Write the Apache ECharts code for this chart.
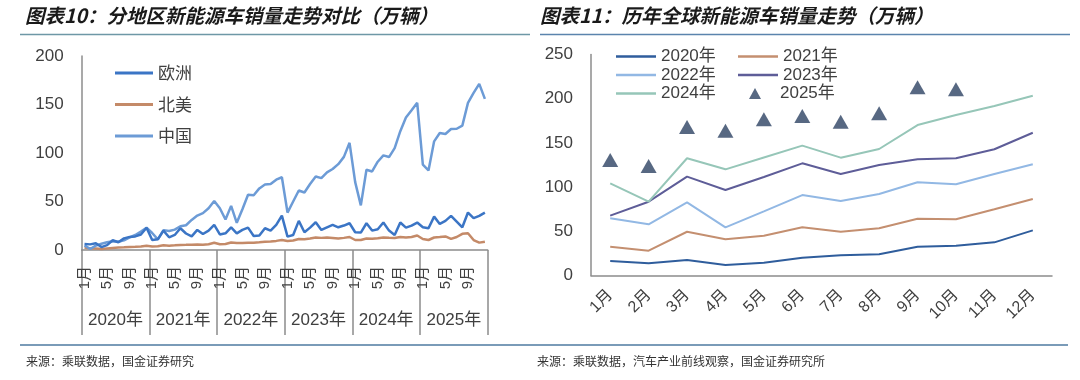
<!DOCTYPE html>
<html>
<head>
<meta charset="utf-8">
<script src="https://cdn.jsdelivr.net/npm/echarts@6/dist/echarts.min.js"></script>
<style>
html,body{margin:0;padding:0;background:#fff;}
#c{width:1080px;height:380px;}
</style>
</head>
<body>
<div id="c"></div>
<script>
// ---------- Left chart data (万辆) ----------
const leftYears = ['2020年','2021年','2022年','2023年','2024年','2025年'];
const monthNames = ['1月','2月','3月','4月','5月','6月','7月','8月','9月','10月','11月','12月'];
const europe = [
  6.2, 5.8, 7.0, 3.0, 5.0, 10.0, 8.0, 12.0, 13.5, 14.0, 16.0, 23.0,
  10.3, 11.0, 20.0, 13.1, 15.5, 22.4, 17.0, 14.0, 20.7, 16.5, 20.0, 25.9,
  16.0, 17.2, 23.4, 17.2, 20.7, 23.1, 14.5, 15.0, 22.4, 19.9, 25.9, 35.5,
  13.8, 15.5, 30.0, 18.3, 23.1, 28.6, 20.7, 23.4, 25.9, 23.4, 25.2, 27.6,
  18.3, 18.0, 27.6, 20.0, 21.4, 28.3, 20.0, 15.5, 28.3, 23.1, 25.2, 28.3,
  23.4, 22.4, 34.4, 26.9, 30.0, 35.2, 29.3, 23.4, 38.6, 32.8, 35.2, 38.6
];
const northAmerica = [
  2.5, 1.5, 1.5, 1.0, 1.5, 2.0, 2.5, 2.8, 3.2, 3.3, 3.5, 4.3,
  3.6, 3.8, 4.8, 4.5, 4.8, 5.2, 5.3, 5.5, 5.6, 5.5, 6.0, 7.5,
  6.0, 6.2, 7.8, 7.2, 7.2, 7.6, 7.6, 8.0, 8.6, 8.8, 9.4, 10.3,
  9.3, 9.8, 11.4, 11.0, 11.8, 12.9, 12.5, 12.9, 12.4, 11.9, 12.5, 13.4,
  10.3, 10.3, 11.9, 11.6, 12.2, 12.9, 12.6, 12.4, 13.4, 13.0, 13.4, 15.0,
  11.4, 10.3, 12.9, 13.4, 14.0, 11.4, 13.4, 16.7, 17.2, 10.3, 7.6, 8.6
];
const china = [
  4.8, 1.0, 4.5, 6.5, 8.0, 9.0, 8.5, 10.0, 13.0, 15.5, 19.0, 23.0,
  17.5, 11.0, 20.5, 19.5, 21.0, 24.5, 25.5, 31.0, 35.5, 38.0, 43.0, 50.5,
  43.0, 31.5, 45.5, 28.0, 42.0, 57.0, 56.5, 63.5, 67.5, 68.0, 72.5, 75.0,
  38.6, 50.0, 61.3, 59.3, 68.0, 75.8, 74.1, 80.0, 83.5, 88.5, 96.0, 110.5,
  70.0, 46.0, 82.7, 81.0, 91.0, 97.5, 95.8, 105.0, 122.5, 136.5, 144.0, 151.7,
  88.0, 82.0, 112.0, 120.6, 119.6, 124.8, 125.0, 128.2, 151.7, 162.0, 171.3, 155.8
];
const leftMonthCats = [];
leftYears.forEach(function(y){ monthNames.forEach(function(m){ leftMonthCats.push(m); }); });

// ---------- Right chart data (万辆) ----------
const rightMonths = ['1月','2月','3月','4月','5月','6月','7月','8月','9月','10月','11月','12月'];
const y2020 = [16.4, 13.8, 17.5, 11.9, 14.5, 20.2, 22.8, 24.0, 32.6, 33.7, 37.5, 51.0];
const y2021 = [32.6, 28.1, 49.5, 40.9, 45.0, 54.5, 49.5, 53.4, 64.3, 63.6, 74.9, 86.5];
const y2022 = [64.7, 57.9, 82.8, 54.5, 72.5, 91.0, 84.3, 92.2, 105.4, 103.2, 114.8, 125.8];
const y2023 = [67.7, 83.5, 111.8, 96.7, 111.5, 126.9, 114.8, 125.0, 131.4, 132.6, 142.8, 161.5];
const y2024 = [104.3, 83.5, 132.6, 120.1, 133.5, 146.9, 133.3, 143.1, 170.2, 181.6, 191.7, 203.4];
const y2025 = [130.6, 123.9, 168.0, 163.8, 176.7, 180.4, 174.0, 183.5, 212.9, 210.6];

const FONT = "'Liberation Sans', 'Noto Sans CJK SC', sans-serif";
const CJK = "'Noto Sans CJK SC', sans-serif";
const AXIS = '#8c8c8c';
const TXT = '#404040';
const LEFT_ICON = 'path://M0,0H38V3H0Z';
const RIGHT_ICON = 'path://M0,0H40V2.5H0Z';

const chart = echarts.init(document.getElementById('c'), null, {renderer: 'canvas'});

const option = {
  animation: false,
  backgroundColor: '#fff',
  textStyle: {fontFamily: FONT},
  graphic: [
    {type: 'text', left: 25, top: 6, style: {text: '图表10：分地区新能源车销量走势对比（万辆）', fontFamily: CJK, fontSize: 19.5, fontWeight: 'bold', fontStyle: 'italic', fill: '#1a1a1a'}},
    {type: 'text', left: 540, top: 6, style: {text: '图表11：历年全球新能源车销量走势（万辆）', fontFamily: CJK, fontSize: 19.5, fontWeight: 'bold', fontStyle: 'italic', fill: '#1a1a1a'}},
    {type: 'line', shape: {x1: 20, y1: 34.5, x2: 530, y2: 34.5}, style: {stroke: '#6e98a6', lineWidth: 1.5}},
    {type: 'line', shape: {x1: 540, y1: 34.5, x2: 1070, y2: 34.5}, style: {stroke: '#5b84ad', lineWidth: 1.5}},
    {type: 'line', shape: {x1: 20, y1: 345, x2: 1068, y2: 345}, style: {stroke: '#7a9bb8', lineWidth: 2}},
    {type: 'text', left: 26, top: 355, style: {text: '来源：乘联数据，国金证券研究', fontFamily: CJK, fontSize: 12, fill: '#333'}},
    {type: 'text', left: 537, top: 355, style: {text: '来源：乘联数据，汽车产业前线观察，国金证券研究所', fontFamily: CJK, fontSize: 12, fill: '#333'}}
  ],
  legend: [
    {
      orient: 'vertical', left: 110, top: 58, itemWidth: 38, itemHeight: 14, itemGap: 11.5,
      data: [{name: '欧洲', icon: LEFT_ICON}, {name: '北美', icon: LEFT_ICON}, {name: '中国', icon: LEFT_ICON}],
      textStyle: {fontFamily: CJK, fontSize: 17, color: TXT, lineHeight: 20}
    },
    {
      orient: 'vertical', left: 611, top: 43, itemWidth: 40, itemHeight: 12, itemGap: 1.5,
      data: [{name: '2020年', icon: RIGHT_ICON}, {name: '2022年', icon: RIGHT_ICON}, {name: '2024年', icon: RIGHT_ICON}],
      textStyle: {fontFamily: FONT, fontSize: 17, color: TXT, lineHeight: 17}
    },
    {
      orient: 'vertical', left: 733, top: 43, itemWidth: 40, itemHeight: 12, itemGap: 1.5,
      data: [{name: '2021年', icon: RIGHT_ICON}, {name: '2023年', icon: RIGHT_ICON}],
      textStyle: {fontFamily: FONT, fontSize: 17, color: TXT, lineHeight: 17}
    },
    {
      orient: 'vertical', left: 744, top: 80, itemWidth: 12, itemHeight: 11, itemGap: 1.5,
      data: [{name: '2025年', icon: 'triangle'}],
      textStyle: {fontFamily: FONT, fontSize: 17, color: TXT, lineHeight: 17, padding: [0, 0, 0, 14]}
    }
  ],
  grid: [
    {left: 81.7, top: 56, width: 406, height: 194},
    {left: 591, top: 54.5, width: 461, height: 221}
  ],
  xAxis: [
    {
      type: 'category', gridIndex: 0, data: leftMonthCats, boundaryGap: true,
      axisLine: {lineStyle: {color: AXIS, width: 1.5}},
      axisTick: {show: false},
      axisLabel: {
        interval: function(i){ return i % 4 === 0; },
        rotate: 90, margin: 16, fontSize: 15, color: TXT, fontFamily: FONT
      }
    },
    {
      type: 'category', gridIndex: 0, data: leftYears, position: 'bottom', boundaryGap: true,
      axisLine: {show: false},
      axisTick: {show: true, interval: 0, length: 85, lineStyle: {color: AXIS, width: 1.5}},
      axisLabel: {interval: 0, margin: 62, fontSize: 17, color: TXT, fontFamily: FONT, hideOverlap: false}
    },
    {
      type: 'category', gridIndex: 1, data: rightMonths, boundaryGap: true,
      axisLine: {lineStyle: {color: AXIS, width: 1.5}},
      axisTick: {show: false},
      axisLabel: {rotate: 45, margin: 17, fontSize: 16, color: TXT, fontFamily: FONT, interval: 0}
    }
  ],
  yAxis: [
    {
      type: 'value', gridIndex: 0, min: 0, max: 200, interval: 50,
      axisLine: {show: true, lineStyle: {color: AXIS, width: 1.5}},
      axisTick: {show: false}, splitLine: {show: false},
      axisLabel: {fontSize: 17, color: TXT, margin: 18, fontFamily: FONT}
    },
    {
      type: 'value', gridIndex: 1, min: 0, max: 250, interval: 50,
      axisLine: {show: true, lineStyle: {color: AXIS, width: 1.5}},
      axisTick: {show: false}, splitLine: {show: false},
      axisLabel: {fontSize: 17, color: TXT, margin: 18, fontFamily: FONT}
    }
  ],
  series: [
    {name: '欧洲', type: 'line', xAxisIndex: 0, yAxisIndex: 0, data: europe, symbol: 'none', color: '#3b75c5', lineStyle: {width: 2.5, color: '#3b75c5'}, z: 3},
    {name: '北美', type: 'line', xAxisIndex: 0, yAxisIndex: 0, data: northAmerica, symbol: 'none', color: '#c48a68', lineStyle: {width: 2.5, color: '#c48a68'}, z: 2},
    {name: '中国', type: 'line', xAxisIndex: 0, yAxisIndex: 0, data: china, symbol: 'none', color: '#6c9bd6', lineStyle: {width: 2.5, color: '#6c9bd6'}, z: 2},
    {name: '2020年', type: 'line', xAxisIndex: 2, yAxisIndex: 1, data: y2020, symbol: 'none', color: '#2f5d9c', lineStyle: {width: 2, color: '#2f5d9c'}},
    {name: '2021年', type: 'line', xAxisIndex: 2, yAxisIndex: 1, data: y2021, symbol: 'none', color: '#c48f70', lineStyle: {width: 2, color: '#c48f70'}},
    {name: '2022年', type: 'line', xAxisIndex: 2, yAxisIndex: 1, data: y2022, symbol: 'none', color: '#92b8e4', lineStyle: {width: 2, color: '#92b8e4'}},
    {name: '2023年', type: 'line', xAxisIndex: 2, yAxisIndex: 1, data: y2023, symbol: 'none', color: '#5e5d98', lineStyle: {width: 2, color: '#5e5d98'}},
    {name: '2024年', type: 'line', xAxisIndex: 2, yAxisIndex: 1, data: y2024, symbol: 'none', color: '#96c6b8', lineStyle: {width: 2, color: '#96c6b8'}},
    {name: '2025年', type: 'scatter', xAxisIndex: 2, yAxisIndex: 1, data: y2025, symbol: 'triangle', symbolSize: [16, 14], color: '#2d4263', itemStyle: {color: '#2d4263'}}
  ]
};
chart.setOption(option);
</script>
</body>
</html>
